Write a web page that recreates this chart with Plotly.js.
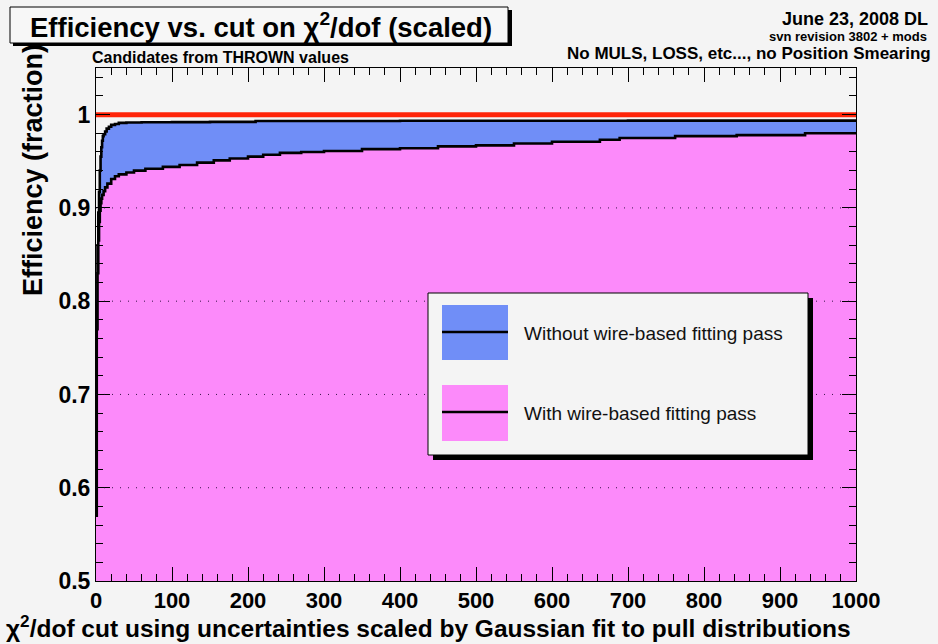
<!DOCTYPE html>
<html>
<head>
<meta charset="utf-8">
<script src="https://cdn.plot.ly/plotly-3.0.1.min.js"></script>
<style>html,body{margin:0;padding:0;background:#f4f4f4;}#chart{width:938px;height:644px;}</style>
</head>
<body>
<div id="chart"></div>
<script>
// ---- data ----
const chiCutWithout = [0,1,2,3,4,5,6,7,8,9,10,12,14,17,20,25,30,40,60,100,150,210,400,700,1000];
const effWithout    = [0.55,0.80,0.86,0.895,0.917,0.94,0.955,0.965,0.972,0.977,0.979,0.982,0.985,0.987,0.989,0.990,0.9912,0.9915,0.9918,0.992,0.9922,0.9932,0.9934,0.9936,0.9936];

const chiCutWith = [0,1,2,3,4,5,6,7,8,10,12,15,20,25,30,40,50,65,88,110,133,155,176,200,220,242,270,300,350,400,450,500,550,600,663,689,762,843,933,1000];
const effWith    = [0.57,0.77,0.83,0.865,0.885,0.897,0.905,0.91,0.914,0.918,0.922,0.926,0.931,0.934,0.936,0.938,0.940,0.942,0.944,0.946,0.9485,0.951,0.953,0.955,0.957,0.959,0.960,0.961,0.963,0.964,0.966,0.967,0.969,0.971,0.973,0.975,0.977,0.978,0.980,0.9805];

const refLineX = [0, 1000];
const refLineY = [1.0, 1.0];

const xTickVals = [0,100,200,300,400,500,600,700,800,900,1000];
const xTickText = ['0','100','200','300','400','500','600','700','800','900','1000'];
const yTickVals = [0.5,0.6,0.7,0.8,0.9,1.0];
const yTickText = ['0.5','0.6','0.7','0.8','0.9','1'];
const yGridVals = [0.6,0.7,0.8,0.9];

const legendLabels = ['Without wire-based fitting pass','With wire-based fitting pass'];

// ---- layout helpers (pixel -> paper) ----
const L = 96, R = 856, T = 68, B = 581;
const px = p => (p - L) / (R - L);
const py = p => (B - p) / (B - T);

const BLUE = 'rgb(112,142,247)';
const PINK = 'rgb(252,138,250)';
const BOLD = 'Liberation Sans, Arial, sans-serif';

const traces = [
  {x: chiCutWithout, y: effWithout, type: 'scatter', mode: 'lines',
   line: {shape: 'hv', color: 'black', width: 2.6}, fill: 'tozeroy', fillcolor: BLUE,
   showlegend: false, hoverinfo: 'skip'},
  {x: chiCutWith, y: effWith, type: 'scatter', mode: 'lines',
   line: {shape: 'hv', color: 'black', width: 2.6}, fill: 'tozeroy', fillcolor: PINK,
   showlegend: false, hoverinfo: 'skip'},
  {x: refLineX, y: refLineY, type: 'scatter', mode: 'lines',
   line: {color: 'rgb(255,36,8)', width: 5}, showlegend: false, hoverinfo: 'skip'}
];

const shapes = [];
// grid lines above the fills
yGridVals.forEach(v => shapes.push({type: 'line', xref: 'paper', yref: 'y', x0: 0, x1: 1, y0: v, y1: v,
  line: {color: 'rgba(20,0,40,0.85)', width: 1, dash: '1px,7px'}, layer: 'above'}));
// title box with shadow
shapes.push({type: 'rect', xref: 'paper', yref: 'paper', x0: px(13), x1: px(512), y0: py(10), y1: py(46),
  fillcolor: 'black', line: {width: 0}, layer: 'above'});
shapes.push({type: 'rect', xref: 'paper', yref: 'paper', x0: px(10), x1: px(508), y0: py(7), y1: py(43),
  fillcolor: '#f7f7f7', line: {color: 'black', width: 1}, layer: 'above'});
// legend box with shadow
shapes.push({type: 'rect', xref: 'paper', yref: 'paper', x0: px(433), x1: px(813), y0: py(298), y1: py(460),
  fillcolor: 'black', line: {width: 0}, layer: 'above'});
shapes.push({type: 'rect', xref: 'paper', yref: 'paper', x0: px(428), x1: px(808), y0: py(293), y1: py(455),
  fillcolor: '#f4f4f4', line: {color: 'black', width: 1}, layer: 'above'});
// legend swatches
[[BLUE, 305, 360, 332], [PINK, 385, 441, 412]].forEach(s => {
  shapes.push({type: 'rect', xref: 'paper', yref: 'paper', x0: px(442), x1: px(508), y0: py(s[1]), y1: py(s[2]),
    fillcolor: s[0], line: {width: 0}, layer: 'above'});
  shapes.push({type: 'line', xref: 'paper', yref: 'paper', x0: px(442), x1: px(508), y0: py(s[3]), y1: py(s[3]),
    line: {color: 'black', width: 2.6}, layer: 'above'});
});

const ann = (text, x, y, size, xanchor, opts) => Object.assign({
  text: text, xref: 'paper', yref: 'paper', x: px(x), y: py(y), xanchor: xanchor, yanchor: 'middle',
  showarrow: false, font: {family: BOLD, size: size, color: 'black'}}, opts || {});

const annotations = [
  ann('<b>Efficiency vs. cut on χ<sup>2</sup>/dof (scaled)</b>', 261, 26, 27.5, 'center'),
  ann('<b>June 23, 2008 DL</b>', 930, 19, 18, 'right'),
  ann('<b>svn revision 3802 + mods</b>', 929, 36, 13, 'right'),
  ann('<b>No MULS, LOSS, etc..., no Position Smearing</b>', 933, 53, 17, 'right'),
  ann('<b>Candidates from THROWN values</b>', 90, 58, 16, 'left'),
  ann('<b>χ<sup>2</sup>/dof cut using uncertainties scaled by Gaussian fit to pull distributions</b>', 4, 627, 24.5, 'left'),
  ann('<b>Efficiency (fraction)</b>', 33, 170, 27, 'center', {textangle: -90}),
  ann(legendLabels[0], 522, 333, 19, 'left', {font: {family: BOLD, size: 19, color: '#111'}}),
  ann(legendLabels[1], 522, 413, 19, 'left', {font: {family: BOLD, size: 19, color: '#111'}})
];

const layout = {
  width: 938, height: 644,
  margin: {l: L, r: 938 - R, t: T, b: 644 - B, pad: 0},
  paper_bgcolor: '#f4f4f4', plot_bgcolor: '#f4f4f4',
  showlegend: false,
  xaxis: {range: [0, 1000], tickvals: xTickVals, ticktext: xTickText, ticks: 'inside', ticklen: 14,
    tickcolor: 'black', tickwidth: 1, showline: true, linecolor: 'black', linewidth: 1, mirror: 'ticks',
    showgrid: false, zeroline: false, layer: 'above traces',
    minor: {dtick: 20, ticks: 'inside', ticklen: 7, tickcolor: 'black', showgrid: false},
    tickfont: {family: BOLD, size: 22, color: 'black', weight: 'bold'}},
  yaxis: {range: [0.5, 1.05], tickvals: yTickVals, ticktext: yTickText, ticks: 'inside', ticklen: 14,
    tickcolor: 'black', tickwidth: 1, showline: true, linecolor: 'black', linewidth: 1, mirror: 'ticks',
    showgrid: false, zeroline: false, layer: 'above traces',
    minor: {dtick: 0.02, ticks: 'inside', ticklen: 7, tickcolor: 'black', showgrid: false},
    tickfont: {family: BOLD, size: 23, color: 'black', weight: 'bold'}},
  shapes: shapes,
  annotations: annotations
};

Plotly.newPlot('chart', traces, layout, {displayModeBar: false, staticPlot: true});
</script>
</body>
</html>
